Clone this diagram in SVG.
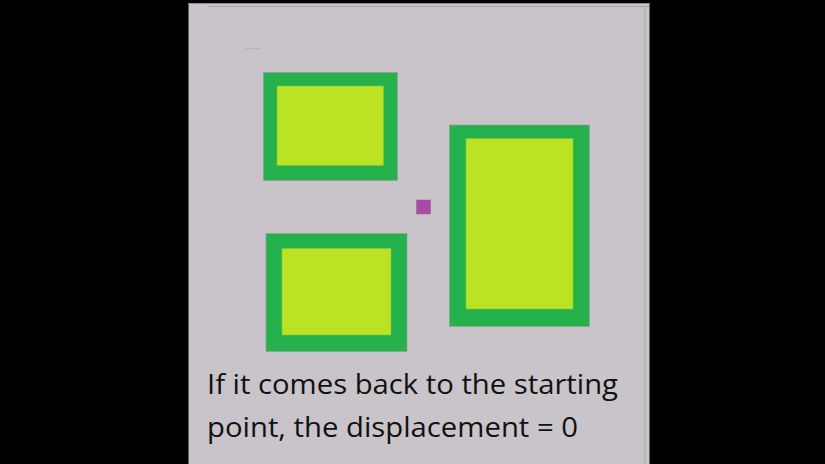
<svg xmlns="http://www.w3.org/2000/svg" width="825" height="464" viewBox="0 0 825 464">
<style>
.outer{fill:#25b14b;stroke:#9a9a9a;stroke-width:0.6}
.inner{fill:#bbe323;stroke:#7cc83a;stroke-width:0.6}
.cap{font-family:"Segoe UI","Open Sans","Noto Sans",sans-serif;font-size:28px;fill:#111}
</style>
<rect x="0" y="0" width="825" height="464" fill="#000"/>
<g id="panel">
<rect x="188.5" y="3" width="461" height="461" fill="#c9c4c9"/>
<line x1="188.5" y1="3.5" x2="649" y2="3.5" stroke="#8e8a8e" stroke-width="1"/>
<line x1="209" y1="6.5" x2="649" y2="6.5" stroke="#a8a4a8" stroke-width="1"/>
<line x1="645" y1="6" x2="645" y2="464" stroke="#a8a4a8" stroke-width="1"/>
<line x1="245" y1="48.5" x2="260" y2="48.5" stroke="#c6aac6" stroke-width="1"/>
</g>
<g id="rect-top-left">
<rect class="outer" x="263.5" y="72.5" width="134" height="108"/>
<rect class="inner" x="277" y="86" width="106.5" height="79.5"/>
</g>
<g id="rect-bottom-left">
<rect class="outer" x="266" y="233.5" width="141" height="118"/>
<rect class="inner" x="282" y="248.5" width="109" height="86.5"/>
</g>
<g id="rect-right">
<rect class="outer" x="449.5" y="125" width="140" height="201.5"/>
<rect class="inner" x="466" y="138.5" width="107" height="170.5"/>
</g>
<g id="point">
<rect x="416.5" y="200" width="14" height="14" fill="#a64ca6" stroke="#9a5a9a" stroke-width="0.5"/>
</g>
<g id="caption">
<text class="cap" x="207" y="394" textLength="411" lengthAdjust="spacingAndGlyphs">If it comes back to the starting</text>
<text class="cap" x="207" y="437" textLength="371" lengthAdjust="spacingAndGlyphs">point, the displacement = 0</text>
</g>
</svg>
